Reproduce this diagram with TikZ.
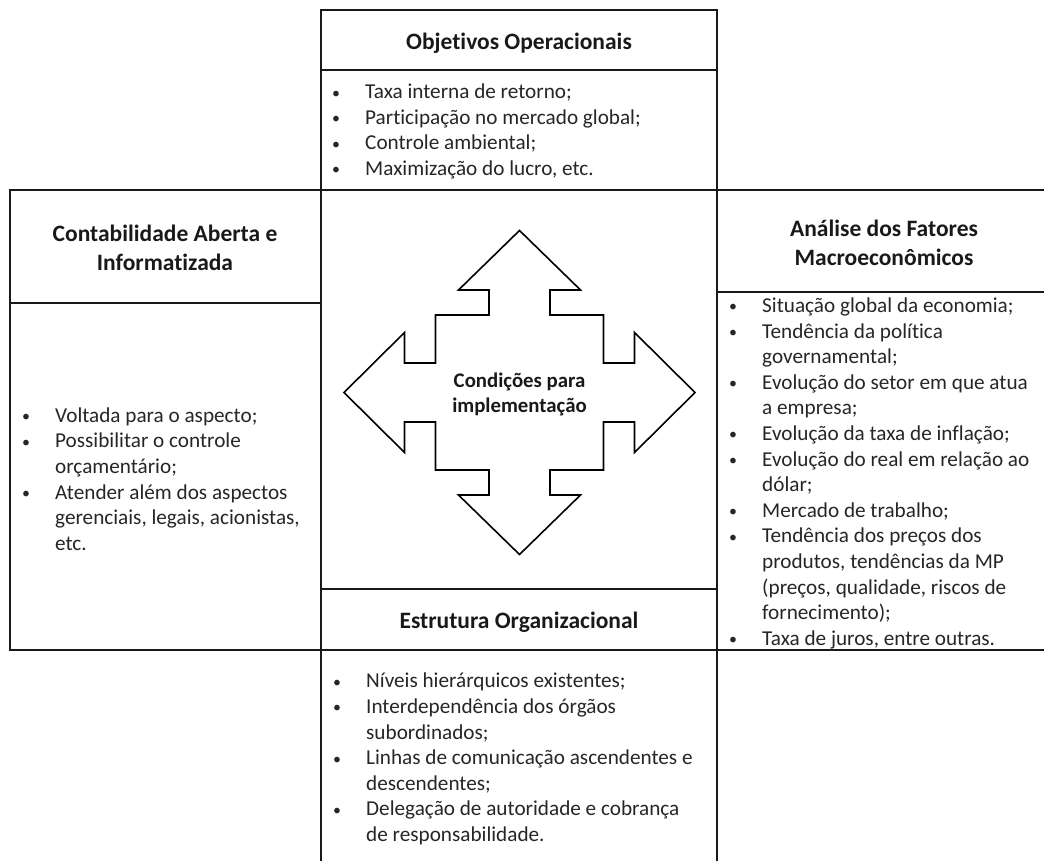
\documentclass[tikz,border=0pt]{standalone}
\usepackage{fontspec}
\usepackage{graphicx}
\setmainfont{Carlito}[Ligatures=NoCommon]
\newcommand{\bitem}[1]{\makebox[33pt][l]{\raisebox{0.5pt}{\scalebox{0.75}{\textbullet}}}#1}
\newcommand{\bcont}[1]{\hspace*{33pt}#1}
\tikzset{
  frame/.style={draw=black!90, line width=2.4pt},
  title/.style={font=\fontsize{23.5}{29}\selectfont\bfseries, text=black!90, align=center, inner sep=0pt},
  body/.style={font=\fontsize{21.2}{25.6}\selectfont, text=black!85, align=left, inner sep=0pt, anchor=west},
  cross/.style={draw=black, line width=1.6pt, fill=white, line join=miter}
}
\begin{document}
\begin{tikzpicture}[x=1pt,y=-1pt]
\useasboundingbox (0,0) rectangle (1044,861);
% boxes
\draw[frame] (321,10) rectangle (717,70);
\draw[frame] (321,70) rectangle (717,190);
\draw[frame] (321,190) rectangle (717,589);
\draw[frame] (10,190) rectangle (321,303);
\draw[frame] (10,303) rectangle (321,650);
\draw[frame] (717,190) rectangle (1060,292);
\draw[frame] (717,292) rectangle (1060,650);
\draw[frame] (321,589) rectangle (717,650);
\draw[frame] (321,650) rectangle (717,880);
% titles
\node[title] (th) at (519,43) {Objetivos Operacionais};
\node[title] (lh) at (165,247.5) {Contabilidade Aberta e\\Informatizada};
\node[title] (rh) at (884,243) {Análise dos Fatores\\Macroeconômicos};
\node[title] (bh) at (519,622) {Estrutura Organizacional};
% bodies
\node[body] (tb) at (332,131.5) {\bitem{Taxa interna de retorno;}\\
\bitem{Participação no mercado global;}\\
\bitem{Controle ambiental;}\\
\bitem{Maximização do lucro, etc.}};
\node[body] (lb) at (22,479) {\bitem{Voltada para o aspecto;}\\
\bitem{Possibilitar o controle}\\
\bcont{orçamentário;}\\
\bitem{Atender além dos aspectos}\\
\bcont{gerenciais, legais, acionistas,}\\
\bcont{etc.}};
\node[body] (rb) at (729,473.3) {\bitem{Situação global da economia;}\\
\bitem{Tendência da política}\\
\bcont{governamental;}\\
\bitem{Evolução do setor em que atua}\\
\bcont{a empresa;}\\
\bitem{Evolução da taxa de inflação;}\\
\bitem{Evolução do real em relação ao}\\
\bcont{dólar;}\\
\bitem{Mercado de trabalho;}\\
\bitem{Tendência dos preços dos}\\
\bcont{produtos, tendências da MP}\\
\bcont{(preços, qualidade, riscos de}\\
\bcont{fornecimento);}\\
\bitem{Taxa de juros, entre outras.}};
\node[body] (bb) at (333,759) {\bitem{Níveis hierárquicos existentes;}\\
\bitem{Interdependência dos órgãos}\\
\bcont{subordinados;}\\
\bitem{Linhas de comunicação ascendentes e}\\
\bcont{descendentes;}\\
\bitem{Delegação de autoridade e cobrança}\\
\bcont{de responsabilidade.}};
% four-way arrow
\begin{scope}[shift={(519.5,392.5)}]
\draw[cross] (0,-162) -- (61,-102.5) -- (30.5,-102.5) -- (30.5,-77.5) -- (84,-77.5) -- (84,-29.5)
 -- (115,-29.5) -- (115,-60) -- (175.5,0) -- (115,60) -- (115,29.5) -- (84,29.5) -- (84,77.5)
 -- (30.5,77.5) -- (30.5,102.5) -- (61,102.5) -- (0,162) -- (-61,102.5) -- (-30.5,102.5)
 -- (-30.5,77.5) -- (-84,77.5) -- (-84,29.5) -- (-115,29.5) -- (-115,60) -- (-175.5,0)
 -- (-115,-60) -- (-115,-29.5) -- (-84,-29.5) -- (-84,-77.5) -- (-30.5,-77.5) -- (-30.5,-102.5)
 -- (-61,-102.5) -- cycle;
\node[font=\fontsize{20.8}{25}\selectfont\bfseries, text=black!90, align=center, inner sep=0pt] (ct) at (0,1.5) {Condições para\\implementação};
\end{scope}
\end{tikzpicture}
\end{document}
